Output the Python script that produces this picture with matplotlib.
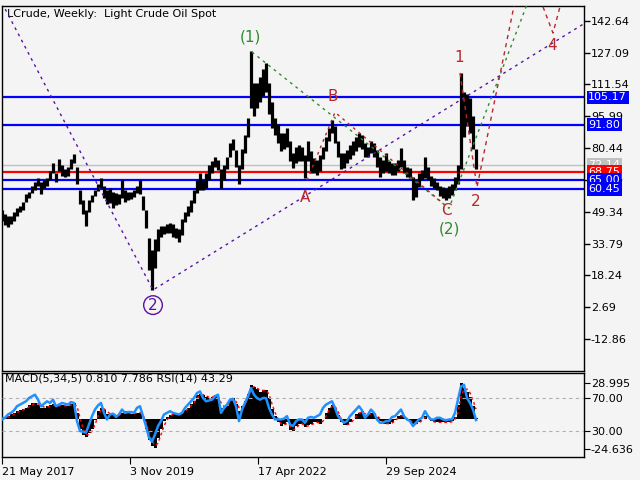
import matplotlib
matplotlib.use("Agg")
import matplotlib.pyplot as plt
import numpy as np

# ---------------- data ----------------
# 3-week price bars: highs and lows
hi = [50, 48, 47, 47, 49, 51, 52, 54, 58, 59, 62, 64, 66, 64, 65, 66, 69, 73, 68, 75,
      72, 70, 71, 75, 77.5, 71, 60, 55, 50, 55, 57.5, 60, 63, 66, 62, 60, 61, 59, 58.5, 58,
      65, 60, 59, 59, 60, 62, 65, 57, 50, 36.5, 30.5, 36, 41, 42.5, 42.5, 43.5, 44, 43.5, 41.5, 41,
      46, 49, 52, 55, 60, 65, 68, 65, 68, 72, 74, 76, 74.5, 70, 72, 76, 83, 85, 79.5, 72,
      80, 87, 95, 128, 112, 112, 115, 119, 122, 112, 103, 95, 92, 88, 88, 90, 84, 78, 81, 82,
      81, 77, 84, 79, 75.5, 74.6, 77, 81, 86, 90, 94, 91, 84, 78, 78, 79.5, 82, 84, 86, 88,
      87, 83, 81, 84, 83, 79.5, 76, 74.6, 78, 74, 73, 73, 74.6, 80.5, 74.6, 71, 70.5, 66.5, 65, 68,
      69.5, 76, 71, 67, 66, 64, 62, 61.5, 61, 62, 63, 66.5, 72, 117, 108, 107, 105, 96, 80]
lo = [45, 43, 42, 43.5, 45, 47, 49, 50, 54, 56, 58.5, 60, 62, 58, 61, 62, 65, 68, 64, 69,
      67, 66.5, 67, 70, 73, 63, 53, 48, 42.5, 49, 54, 57, 59.5, 61, 56, 53, 53.5, 51, 52.5, 53,
      56, 54, 55, 55.5, 56.5, 58.5, 58, 50, 41.5, 21, 11, 22, 30, 37, 38.5, 39, 39, 37, 36.5, 34.5,
      38, 44.5, 47, 49, 53.5, 58.5, 60, 60, 61, 65, 68, 71, 69.5, 61, 65, 70, 76, 79.5, 71, 63,
      70, 78, 86, 100, 96, 100, 103, 106, 108, 97, 90, 87, 83, 79, 80, 81, 74, 70.5, 73, 74,
      74, 66, 74, 68, 68, 67.3, 69, 75, 79, 84, 88, 83, 76, 70, 70.7, 73, 75, 77, 79, 81,
      80, 76, 76, 78, 76, 71, 66.5, 68, 69, 68, 67.3, 67.5, 69, 71, 68, 66.5, 66, 55, 56.5, 61.5,
      64.8, 66, 65, 62, 61, 60, 57, 56, 55, 56, 57.5, 60, 63, 70, 86, 91, 88, 80, 70]

macd = [0, 1, 2, 4, 5, 6, 7, 8, 9, 11, 13, 13, 11, 9, 9, 10, 11, 12, 10, 10,
        11, 10, 10, 12, 13, 5, -8, -13, -15, -12, -8, -1, 6, 9, 7, 4, 3, 4, 3, 3,
        5, 6, 5, 4, 4, 5, 5, 0, -8, -17, -22, -24, -16, -8, -2, 1, 3, 4, 4, 4,
        5, 7, 9, 12, 14, 19, 20, 19, 18, 17, 18, 19, 17, 9, 9, 10, 15, 17, 12, 6,
        10, 14, 20, 27, 26, 24, 22, 23, 23, 17, 8, 2, -3, -6, -4, -3, -9, -10, -6, -4,
        -4, -7, -5, -4, -3, -3, -4, 0, 5, 9, 11, 8, 3, -3, -5, -5, -3, 0, 4, 5,
        6, 2, 3, 5, 4, 1, -2, -4, -4, -4, -3, -1, 2, 3, 1, -1, -2, -4, -4, -3,
        0, 2, 0, -2, -3, -3, -3, -3, -3, -3, -2, 1, 11, 29, 25, 22, 18, 10, 0.81]
signal = [1, 0.5, 1, 2, 3.5, 5, 6, 7, 8, 9.5, 11, 12.5, 12, 10.5, 9.5, 9.5, 10, 11, 11, 10.5,
          10.5, 10.5, 10, 11, 12, 10, 1, -8, -13, -13, -10, -5, 2, 7, 8, 6, 4, 3.5, 3.5, 3,
          4, 5.5, 5.5, 4.5, 4, 4.5, 5, 3, -3, -11, -18, -22, -20, -13, -6, -1, 2, 3.5, 4, 4,
          4.5, 6, 8, 10.5, 13, 16.5, 19, 19.5, 18.5, 17.5, 17.5, 18.5, 18, 13, 10, 10, 13, 16, 14, 9,
          9, 12, 17, 24, 26, 25, 23, 23, 23, 20, 12, 5, 0, -4, -5, -4, -6, -9, -8, -5,
          -4, -6, -6, -5, -4, -3, -3.5, -2, 2, 7, 10, 10, 6, 0, -4, -5, -4, -1.5, 2, 4.5,
          5.5, 4, 3, 4, 4.5, 2.5, 0, -3, -4, -4, -3.5, -2, 0.5, 2.5, 2, 0, -1.5, -3, -4, -3.5,
          -1.5, 1, 1, -1, -2.5, -3, -3, -3, -3, -3, -2.5, -0.5, 5, 18, 24, 24, 21, 15, 7.786]
rsi = [44, 46, 50, 52, 55, 60, 62, 64, 66, 70, 72, 74, 68, 60, 63, 66, 64, 68, 60, 62,
       64, 63, 62, 65, 64, 42, 30, 29, 28, 38, 48, 56, 61, 64, 52, 44, 50, 51, 47, 50,
       56, 52, 53, 53, 52, 58, 60, 48, 36, 22, 17, 26, 36, 42, 50, 52, 54, 52, 51, 50,
       52, 58, 62, 66, 70, 76, 78, 70, 66, 67, 68, 72, 74, 52, 58, 62, 68, 69, 60, 42,
       56, 64, 72, 82, 74, 70, 68, 70, 70, 58, 50, 44, 44, 44, 45, 48, 38, 36, 42, 44,
       44, 40, 46, 47, 46, 48, 50, 58, 62, 64, 66, 58, 48, 44, 40, 42, 48, 52, 56, 60,
       55, 46, 50, 56, 52, 44, 40, 40, 42, 42, 47, 48, 52, 56, 48, 44, 42, 36, 40, 44,
       46, 54, 48, 44, 44, 46, 46, 44, 43, 44, 44, 52, 68, 84, 86, 70, 64, 56, 43.29]

level_values = [105.17, 91.80, 72.14, 68.75, 65.00, 60.45]
level_colors = ['#0000ff', '#0000ff', '#c0c0c0', '#ff0000', '#0000ff', '#0000ff']
price_ticks = [142.64, 127.09, 111.54, 95.99, 80.44, 64.89, 49.34, 33.79, 18.24, 2.69, -12.86]
date_weeks = [0, 128, 256, 384]
date_labels = ['21 May 2017', '3 Nov 2019', '17 Apr 2022', '29 Sep 2024']

# wave lines (week, price)
purple_w = [0, 151, 583];            purple_p = [151.3, 11.1, 141.5]
green_w = [250, 447, 542];           green_p = [127.3, 51.0, 172.3]
red_abc_w = [305, 333, 442];         red_abc_p = [64.7, 97.9, 53.0]
red_w = [458, 475, 522, 551, 573];   red_p = [117.1, 61.3, 173.8, 136.6, 177.2]

wave_labels = [("(1)", 248, 134.7, 'g'), ("B", 331, 105.4, 'r'), ("A", 303, 56.5, 'r'),
               ("C", 444, 49.7, 'r'), ("(2)", 447, 40.9, 'g'), ("1", 457, 124.9, 'r'),
               ("2", 474, 54.1, 'r'), ("4", 550, 130.3, 'r')]

# ---------------- figure ----------------
W, H = 640, 480
BG = '#f4f4f4'
fig = plt.figure(figsize=(6.4, 4.8), dpi=100)
fig.patch.set_facecolor(BG)


def rect(l, t, r, b):
    return [l / W, 1 - b / H, (r - l) / W, (b - t) / H]


ax = fig.add_axes(rect(2, 6, 584, 371))
axm = fig.add_axes(rect(2, 373, 584, 457))
for a in (ax, axm):
    a.set_facecolor(BG)
    for s in a.spines.values():
        s.set_color('black')
        s.set_linewidth(1)

weeks = np.arange(len(hi)) * 3
XL = (0, 582)

# price bars
ax.vlines(weeks, lo, hi, color='black', lw=2.3, zorder=3)

# horizontal levels
for v, c in zip(level_values, level_colors):
    ax.axhline(v, color=c, lw=1.0 if c == '#c0c0c0' else 1.6, zorder=2)

colmap = {'g': '#2e8b2e', 'r': '#b8282a'}
ax.plot(purple_w, purple_p, color='#5a0fa8', lw=1, ls=(0, (2, 3)), zorder=4)
ax.plot(green_w, green_p, color='#2e8b2e', lw=1, ls=(0, (2, 3)), zorder=4)
ax.plot(red_abc_w, red_abc_p, color='#b8282a', lw=1, ls=(0, (2, 3)), zorder=4)
ax.plot(red_w, red_p, color='#b8282a', lw=1, ls=(0, (3, 3)), zorder=4)

for t, x, y, c in wave_labels:
    ax.text(x, y, t, color=colmap[c], fontsize=11, ha='center', va='center', zorder=6)
ax.text(151, 3.7, "2", color='#5a0fa8', fontsize=11, ha='center', va='center', zorder=6,
        bbox=dict(boxstyle='circle,pad=0.12', fc='none', ec='#5a0fa8', lw=1))

ax.set_xlim(*XL)
ax.set_ylim(-28.49, 149.82)
ax.set_xticks([])
ax.yaxis.tick_right()
ax.set_yticks(price_ticks)
ax.set_yticklabels([f"{v:.2f}" for v in price_ticks])
ax.tick_params(axis='y', direction='out', length=4, width=1, pad=1, labelsize=8, colors='black')

# right-side level boxes
for i, (v, c) in enumerate(zip(level_values, level_colors)):
    ax.annotate(f"{v:.2f}", xy=(1, v), xycoords=('axes fraction', 'data'),
                xytext=(3, 0), textcoords='offset points', ha='left', va='center',
                fontsize=8, color='white', zorder=10 + i, annotation_clip=False,
                bbox=dict(boxstyle='square,pad=0.15', fc=c, ec='none'))

ax.text(5, 146.0, "LCrude, Weekly:  Light Crude Oil Spot", fontsize=8, ha='left', va='center')

# ---------------- MACD / RSI panel ----------------
axm.bar(weeks, macd, width=3, color='black', zorder=2)
axm.plot(weeks, signal, color='red', lw=1, ls=(0, (2, 2)), zorder=3)
axm.set_xlim(*XL)
axm.set_ylim(-31.14, 37.12)

axr = axm.twinx()
axr.set_ylim(-1.5, 100.3)
axr.axhline(70, color='#b0b0b0', lw=0.8, ls=(0, (3, 3)), zorder=1)
axr.axhline(30, color='#b0b0b0', lw=0.8, ls=(0, (3, 3)), zorder=1)
axr.plot(weeks, rsi, color='#1e90ff', lw=1.8, zorder=4)
axr.set_yticks([70, 30])
axr.set_yticklabels(["70.00", "30.00"])
axr.tick_params(axis='y', direction='out', length=4, pad=1, labelsize=8)
for s in axr.spines.values():
    s.set_visible(False)

# MACD scale also on the right (after twinx, which moves it left)
axm.yaxis.tick_right()
axm.yaxis.set_label_position('right')
axm.set_yticks([28.995, -24.636])
axm.set_yticklabels(["28.995", "-24.636"])
axm.tick_params(axis='y', which='both', left=False, labelleft=False, right=True, labelright=True,
                direction='out', length=4, pad=1, labelsize=8)
axm.set_xticks(date_weeks)
axm.set_xticklabels(date_labels, ha='left')
axm.tick_params(axis='x', direction='out', length=5, pad=2, labelsize=8)

axm.text(3, 33.0, "MACD(5,34,5) 0.810 7.786 RSI(14) 43.29", fontsize=8, ha='left', va='center', zorder=6)

fig.savefig("out.png", dpi=100, facecolor=BG)
